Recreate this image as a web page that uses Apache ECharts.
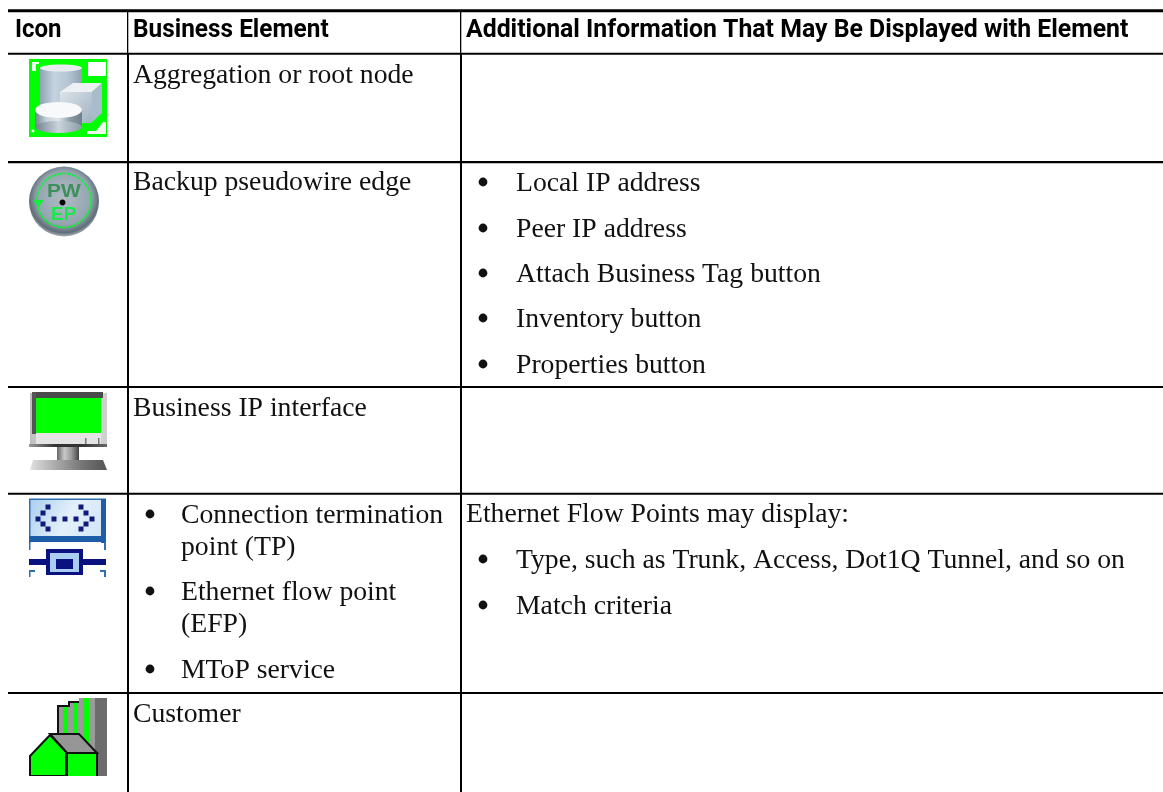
<!DOCTYPE html>
<html><head><meta charset="utf-8">
<style>html,body{margin:0;padding:0;background:#fff}#c{width:1163px;height:792px}</style>
<script src="https://cdn.jsdelivr.net/npm/echarts@6/dist/echarts.min.js"></script>
</head><body><div id="c"></div>
<script>
const headers = ['Icon', 'Business Element', 'Additional Information That May Be Displayed with Element'];
const elementLines = ['Aggregation or root node', 'Backup pseudowire edge', 'Business IP interface', 'Customer'];
const elementBullets = [['Connection termination', 'point (TP)'], ['Ethernet flow point', '(EFP)'], ['MToP service']];
const pseudowireInfo = ['Local IP address', 'Peer IP address', 'Attach Business Tag button', 'Inventory button', 'Properties button'];
const flowIntro = 'Ethernet Flow Points may display:';
const flowInfo = ['Type, such as Trunk, Access, Dot1Q Tunnel, and so on', 'Match criteria'];

const SERIF = '"Liberation Serif", serif';
const HEAD = '"Roboto", sans-serif';
const BODY_SIZE = 27.7;
const els = [];
const rect = (x, y, w, h, fill) => els.push({type:'rect', shape:{x, y, width:w, height:h}, style:{fill}, silent:true});
const poly = (points, fill, stroke, lw) => els.push({type:'polygon', shape:{points}, style:{fill: fill||'none', stroke: stroke||null, lineWidth: lw||0}, silent:true});
const ell = (cx,cy,rx,ry,fill) => els.push({type:'ellipse', shape:{cx,cy,rx,ry}, style:{fill}, silent:true});
const lin = (x0,y0,x1,y1,stops) => new echarts.graphic.LinearGradient(x0,y0,x1,y1,stops.map((c,i)=>({offset:i/(stops.length-1),color:c})));
const txt = (x, base, text, font, size, weight, color, sx, sy) => els.push({type:'text', x, y:base, scaleX:sx||1, scaleY:sy||1, silent:true,
  style:{text, fontFamily:font, fontSize:size, fontWeight:weight||'normal', fill:color||'#111', textAlign:'left', textVerticalAlign:'bottom'}});
const body = (x, base, t) => txt(x, base + BODY_SIZE*0.24 , t, SERIF, BODY_SIZE);
const bullet = (x, y) => els.push({type:'circle', shape:{cx:x, cy:y, r:4.4}, style:{fill:'#111'}, silent:true});

// table rules
[[9.3,3],[52.7,2],[161,2.2],[386,2],[492.7,2],[692,2]].forEach(([y,h]) => rect(8, y, 1155, h, '#000'));
rect(127, 10, 1.3, 43, '#000'); rect(127, 53, 2, 739, '#000');
rect(460, 10, 1.3, 43, '#000'); rect(460, 53, 2, 739, '#000');

// headers
const headX = [15, 133, 466];
const headScale = [1, 1.016, 1.034];
headers.forEach((h,i) => txt(headX[i], 43.5, h, HEAD, 24, 'bold', '#000', headScale[i], 1.08));

// column 2
const elBase = [83, 190, 416, 722];
elementLines.forEach((t,i) => body(133, elBase[i], t));
const elBulletBase = [[523,555],[600,632],[678]];
elementBullets.forEach((ls,i) => { bullet(150, elBulletBase[i][0]-9);
  ls.forEach((t,j) => body(181, elBulletBase[i][j], t)); });

// column 3
const pwBase = [191,237,282,327,373];
pseudowireInfo.forEach((t,i) => { bullet(483, pwBase[i]-9); body(516, pwBase[i], t); });
body(466, 522, flowIntro);
const flowBase = [568,614];
flowInfo.forEach((t,i) => { bullet(483, flowBase[i]-9); body(516, flowBase[i], t); });

// icon 1: aggregation node
rect(29,59,78,78,'#00ff00');
rect(88,62,18,14,'#fff'); rect(32,62,4,9,'#f4fff4'); rect(32,62,7,2,'#f4fff4');
poly([[87,134],[106,134],[106,122],[103,122],[96,131],[87,131]],'#f0f5f0'); ell(33,131,1.5,1.5,'#e8ffe8');
rect(40,68,42,46,lin(0,0,1,0,['#8fa3b5','#c5d3df','#b5c5d3','#8fa1b2']));
ell(61,68,21,3.5,'#e8ecef');
poly([[60,92],[73,83],[102,83],[92,92]],'#eef1f4');
rect(60,92,32,31,lin(0,0,1,1,['#dde4ea','#9fb1c1']));
poly([[92,92],[102,83],[102,113],[92,122]],'#a9bccc');
rect(35,110,47,17,lin(0,0,1,0,['#70838f','#c9d3da','#dfe5e9','#8b9ba6','#6f7f8a']));
ell(58.5,127,23.5,6,lin(0,0,1,0,['#70838f','#c9d3da','#8b9ba6']));
ell(58.5,110,23.5,8,'#f8f9fa');

// icon 2: pseudowire edge
els.push({type:'circle', shape:{cx:64,cy:201.5,r:35}, silent:true, style:{fill:new echarts.graphic.RadialGradient(0.5,0.45,0.55,[{offset:0,color:'#aebbc3'},{offset:0.7,color:'#95a5b0'},{offset:0.9,color:'#5f6e78'},{offset:1,color:'#aab2b7'}])}});
els.push({type:'circle', shape:{cx:64,cy:200.5,r:27}, style:{stroke:'#12f03a',lineWidth:1.7,fill:'none',lineDash:[4,1]}, silent:true});
poly([[33,200],[44,200],[38.5,207]],'#10f038');
txt(47,201.5,'PW','"Liberation Sans", sans-serif',19,'bold','#3f8f5c',1.1,1);
txt(51,224.5,'EP','"Liberation Sans", sans-serif',19,'bold','#18e848',1,1);
ell(62.5,202.5,3,3,'#000');

// icon 3: monitor
rect(30,393,77,51,lin(0,0,1,0,['#bdbdbd','#e6e6e6','#d9d9d9','#cfcfcf']));
rect(32,392,71,6,'#4a4a4a'); rect(32,392,4,42,'#555');
rect(36,398,65,35,'#00ff00');
rect(36,433,65,11,'#e4e4e4'); rect(85,438,1.5,6,'#777'); rect(98,438,1.5,6,'#777');
rect(29,444,78,3,lin(0,0,1,0,['#999','#333','#333','#666']));
rect(57,447,22,13,lin(0,0,1,0,['#666','#c8c8c8','#999','#444']));
poly([[33,460],[103,460],[107,470],[30,470]],lin(0,0,1,0,['#e0e0e0','#aaa','#777','#555']));

// icon 4: termination / flow point
rect(29,499,77,41,lin(0,0,1,1,['#a9ceee','#e4f0fb','#cfe3f6']));
rect(29,498.5,77,1.5,'#2f6fb0'); rect(29,499,1.5,44,'#2f6fb0'); rect(101,499,5,44,'#1d5ca6'); rect(29,536,77,6,'#1d5ca6');
[[48,507],[43,513],[38,519],[43,524],[48,529],[54,519],[65,519],[76,519],[81,507],[86,513],[92,519],[86,524],[81,529]]
  .forEach(([x,y]) => rect(x-2.5,y-2.5,5,5,'#101a78'));
rect(29,542,1.5,8,'#2f6fb0'); rect(104,542,2,8,'#2f6fb0');
rect(46,549,37,26,'#0b1280'); rect(50,553,29,19,'#a9cdf0'); rect(56,559,17,10,'#0b1280');
rect(29,559,17,6,'#0b1280'); rect(83,559,23,6,'#0b1280');
rect(29,570,6,2,'#2f6fb0'); rect(29,570,1.5,7,'#2f6fb0'); rect(100,570,6,2,'#2f6fb0'); rect(104,570,2,7,'#2f6fb0');

// icon 5: customer
rect(95,698,12,78,'#6c6c6c');
poly([[59,705],[69,705],[69,701],[79,701],[79,698],[95,698],[95,756],[59,740]],'#9a9a9a');
rect(63,707,5,28,'#00ff00'); rect(73,702,5,32,'#00ff00'); rect(83,698,6,46,'#00ff00');
els.push({type:'polyline', shape:{points:[[58,733],[58,706],[69,706],[69,702],[79,702]]}, style:{stroke:'#111',lineWidth:2,fill:'none'}, silent:true});
poly([[50,734],[79,734],[97,753],[67,753]],'#969696','#111',2);
poly([[30,756],[50,735],[66,752],[66,776],[30,776]],'#00ff00','#111',2);
rect(66,754,31,22,'#00ff00'); rect(66,752,2,24,'#111'); rect(96,753,2,23,'#111'); rect(66,752,32,2,'#111');
rect(0,776,127,16,'#fff'); rect(127,776,2,16,'#000');

const chart = echarts.init(document.getElementById('c'), null, {renderer:'canvas'});
chart.setOption({animation:false, backgroundColor:'#fff', graphic:{elements:els}});
</script></body></html>
